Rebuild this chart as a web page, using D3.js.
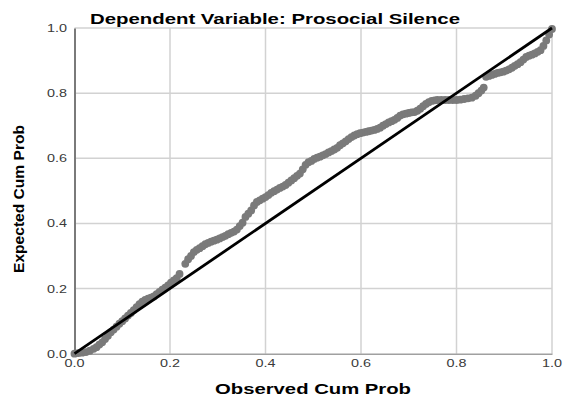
<!DOCTYPE html>
<html>
<head>
<meta charset="utf-8">
<script src="https://cdn.jsdelivr.net/npm/d3@7"></script>
<style>
  html, body { margin: 0; padding: 0; background: #fff; }
  text { font-family: "Liberation Sans", Arial, sans-serif; }
</style>
</head>
<body>
<svg id="chart" width="563" height="396"></svg>
<script>
const titleText = "Dependent Variable: Prosocial Silence";
const xTitle = "Observed Cum Prob";
const yTitle = "Expected Cum Prob";
const tickValues = [0, 0.2, 0.4, 0.6, 0.8, 1.0];
const tickLabels = ["0.0", "0.2", "0.4", "0.6", "0.8", "1.0"];

const observed = [
  0.000,0.008,0.016,0.024,0.032,0.040,0.046,0.052,0.058,0.064,
  0.070,0.076,0.082,0.088,0.094,0.100,0.106,0.112,0.118,0.124,
  0.130,0.136,0.142,0.148,0.154,0.160,0.166,0.172,0.178,0.184,
  0.190,0.196,0.202,0.208,0.214,0.220,0.232,0.238,0.244,0.250,
  0.256,0.262,0.268,0.274,0.280,0.286,0.292,0.298,0.304,0.310,
  0.316,0.322,0.328,0.334,0.340,0.346,0.352,0.358,0.364,0.370,
  0.376,0.382,0.388,0.394,0.400,0.406,0.412,0.418,0.424,0.430,
  0.436,0.442,0.448,0.454,0.460,0.466,0.472,0.478,0.484,0.490,
  0.496,0.502,0.508,0.514,0.520,0.526,0.532,0.538,0.544,0.550,
  0.556,0.562,0.568,0.574,0.580,0.586,0.592,0.598,0.604,0.610,
  0.616,0.622,0.628,0.634,0.640,0.646,0.652,0.658,0.664,0.670,
  0.676,0.682,0.688,0.694,0.700,0.706,0.712,0.718,0.724,0.730,
  0.736,0.742,0.748,0.754,0.760,0.768,0.776,0.784,0.792,0.800,
  0.808,0.816,0.824,0.832,0.840,0.846,0.852,0.857,0.862,0.868,
  0.874,0.880,0.886,0.892,0.898,0.904,0.910,0.916,0.922,0.928,
  0.934,0.940,0.946,0.952,0.958,0.964,0.970,0.976,0.982,0.988,
  0.994,1.000
];
const expected = [
  0.000,0.002,0.003,0.005,0.009,0.015,0.020,0.028,0.035,0.045,
  0.055,0.066,0.074,0.083,0.092,0.100,0.108,0.117,0.125,0.134,
  0.143,0.152,0.160,0.165,0.169,0.172,0.176,0.183,0.190,0.197,
  0.203,0.210,0.218,0.225,0.232,0.245,0.276,0.290,0.300,0.312,
  0.319,0.324,0.330,0.336,0.340,0.344,0.347,0.350,0.354,0.358,
  0.362,0.367,0.371,0.375,0.381,0.392,0.402,0.420,0.430,0.440,
  0.455,0.466,0.471,0.476,0.481,0.487,0.494,0.499,0.504,0.509,
  0.513,0.518,0.525,0.532,0.539,0.546,0.553,0.566,0.580,0.588,
  0.592,0.598,0.602,0.605,0.609,0.613,0.618,0.622,0.627,0.632,
  0.640,0.646,0.652,0.659,0.665,0.670,0.674,0.677,0.679,0.681,
  0.683,0.685,0.687,0.690,0.694,0.700,0.705,0.710,0.714,0.718,
  0.724,0.731,0.735,0.737,0.739,0.741,0.742,0.746,0.752,0.760,
  0.767,0.772,0.776,0.778,0.779,0.779,0.779,0.779,0.779,0.779,
  0.780,0.782,0.784,0.786,0.792,0.800,0.808,0.817,0.850,0.853,
  0.856,0.859,0.862,0.864,0.866,0.869,0.873,0.878,0.884,0.889,
  0.895,0.903,0.911,0.915,0.918,0.922,0.927,0.932,0.945,0.962,
  0.980,0.997
];

const svg = d3.select("#chart");
const mLeft = 74.5, mRight = 552, mTop = 28, mBottom = 353.7;

const x = d3.scaleLinear().domain([0, 1]).range([mLeft, mRight]);
const y = d3.scaleLinear().domain([0, 1]).range([mBottom, mTop]);

// gridlines
const grid = svg.append("g");
grid.selectAll("line.vg").data(tickValues.slice(1)).join("line")
  .attr("class", "vg")
  .attr("x1", d => x(d)).attr("x2", d => x(d))
  .attr("y1", y(0)).attr("y2", y(1))
  .attr("stroke", "#d2d2d2").attr("stroke-width", 1.5);
grid.selectAll("line.hg").data(tickValues.slice(1)).join("line")
  .attr("class", "hg")
  .attr("x1", x(0)).attr("x2", x(1))
  .attr("y1", d => y(d)).attr("y2", d => y(d))
  .attr("stroke", "#d2d2d2").attr("stroke-width", 1.5);

// axes (lines only, labels drawn separately with horizontal stretch)
const xAxis = svg.append("g").attr("transform", `translate(0,${mBottom})`)
  .call(d3.axisBottom(x).tickValues(tickValues).tickSize(0).tickFormat(""));
xAxis.select(".domain").attr("stroke", "#a0a0a0").attr("stroke-width", 1.5);
const yAxis = svg.append("g").attr("transform", `translate(${mLeft},0)`)
  .call(d3.axisLeft(y).tickValues(tickValues).tickSize(0).tickFormat(""));
yAxis.select(".domain").attr("stroke", "#7a7a7a").attr("stroke-width", 2);

// tick labels
svg.append("g").selectAll("text").data(tickValues).join("text")
  .attr("x", d => x(d)).attr("y", mBottom + 13)
  .attr("text-anchor", "middle")
  .attr("font-size", 10).attr("fill", "#3a3a3a")
  .attr("textLength", 20).attr("lengthAdjust", "spacingAndGlyphs")
  .text((d, i) => tickLabels[i]);
svg.append("g").selectAll("text").data(tickValues).join("text")
  .attr("x", mLeft - 7.5).attr("y", d => y(d) + 4)
  .attr("text-anchor", "end")
  .attr("font-size", 10).attr("fill", "#3a3a3a")
  .attr("textLength", 20).attr("lengthAdjust", "spacingAndGlyphs")
  .text((d, i) => tickLabels[i]);

// points
const pts = observed.map((o, i) => ({ o, e: expected[i] }));
svg.append("g").selectAll("circle").data(pts).join("circle")
  .attr("cx", d => x(d.o)).attr("cy", d => y(d.e))
  .attr("r", 3.9).attr("fill", "#7a7a7a");

// reference line
svg.append("line")
  .attr("x1", x(0)).attr("y1", y(0)).attr("x2", x(1)).attr("y2", y(1))
  .attr("stroke", "#000").attr("stroke-width", 2.8);

// titles
svg.append("text").attr("x", 275).attr("y", 23.5)
  .attr("text-anchor", "middle").attr("font-size", 14).attr("font-weight", "bold")
  .attr("textLength", 370).attr("lengthAdjust", "spacingAndGlyphs")
  .text(titleText);
svg.append("text").attr("x", 313).attr("y", 394)
  .attr("text-anchor", "middle").attr("font-size", 15).attr("font-weight", "bold")
  .attr("textLength", 196).attr("lengthAdjust", "spacingAndGlyphs")
  .text(xTitle);
svg.append("text").attr("transform", "translate(23.5,199) rotate(-90)")
  .attr("text-anchor", "middle").attr("font-size", 15).attr("font-weight", "bold")
  .attr("textLength", 148).attr("lengthAdjust", "spacingAndGlyphs")
  .text(yTitle);
</script>
</body>
</html>
